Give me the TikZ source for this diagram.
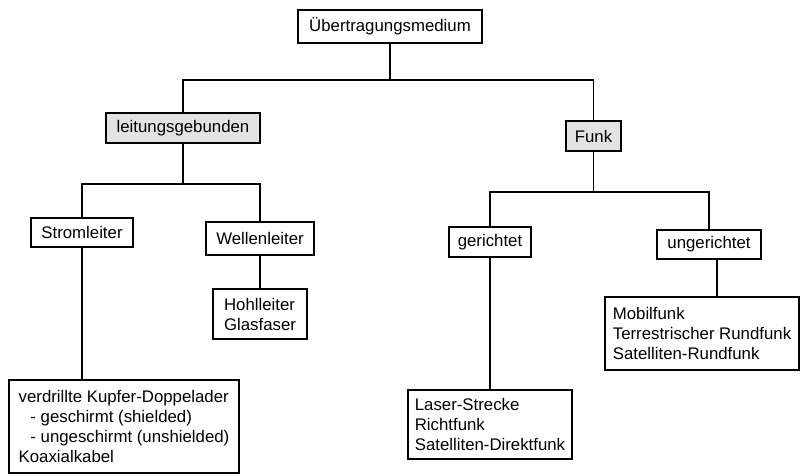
\documentclass[tikz,border=0pt]{standalone}
\usepackage{fontspec}
\setmainfont{Liberation Sans}
\usepackage{tikz}
\usetikzlibrary{calc}

\begin{document}
\begin{tikzpicture}[x=1pt,y=-1pt,
    box/.style={draw,line width=1.8pt,inner sep=0pt,align=left,
      font=\fontsize{16.8}{20}\selectfont},
    grey/.style={box,fill=gray!22},
    link/.style={line width=1.8pt}]
  \useasboundingbox (0,0) rectangle (800,476);
  % top level
  \node[box,minimum width=184,minimum height=33] (medium) at (390,26.5) {Übertragungsmedium};
  \node[grey,minimum width=154,minimum height=30] (leitung) at (183,128) {leitungsgebunden};
  \node[grey,minimum width=55,minimum height=30] (funk) at (593.5,136) {Funk};
  % wired branch
  \node[box,minimum width=102,minimum height=29] (strom) at (82,232.5) {Stromleiter};
  \node[box,minimum width=108,minimum height=33] (wellen) at (260,238.5) {Wellenleiter};
  \node[box,minimum width=94,minimum height=50] (hohl) at (260,314) {Hohlleiter\\Glasfaser};
  \node[box,minimum width=230,minimum height=93] (kupfer) at (124,426.5)
    {verdrillte Kupfer-Doppelader\\
     \hspace*{0.7em}- geschirmt (shielded)\\
     \hspace*{0.7em}- ungeschirmt (unshielded)\\
     Koaxialkabel};
  % radio branch
  \node[box,minimum width=82,minimum height=30] (ger) at (490,242) {gerichtet};
  \node[box,minimum width=104,minimum height=29] (unger) at (709,244.5) {ungerichtet};
  \node[box,minimum width=164,minimum height=69] (laser) at (490,424.5)
    {Laser-Strecke\\Richtfunk\\Satelliten-Direktfunk};
  \node[box,minimum width=194,minimum height=73] (mobil) at (702,333.5)
    {Mobilfunk\\Terrestrischer Rundfunk\\Satelliten-Rundfunk};

  % connectors
  \draw[link] (medium.south) -- ++(0,36) coordinate (topbus) -| (leitung.north);
  \draw[link] (topbus) -| (funk.north);
  \draw[link] (leitung.south) -- ++(0,40) coordinate (leitbus) -| (strom.north);
  \draw[link] (leitbus) -| (wellen.north);
  \draw[link] (funk.south) -- ++(0,40) coordinate (funkbus) -| (ger.north);
  \draw[link] (funkbus) -| (unger.north);
  \draw[link] (strom.south) -- (strom.south |- kupfer.north);
  \draw[link] (wellen.south) -- (wellen.south |- hohl.north);
  \draw[link] (ger.south) -- (ger.south |- laser.north);
  \draw[link] ([xshift=8pt]unger.south) -- ([xshift=8pt]unger.south |- mobil.north);
\end{tikzpicture}
\end{document}
